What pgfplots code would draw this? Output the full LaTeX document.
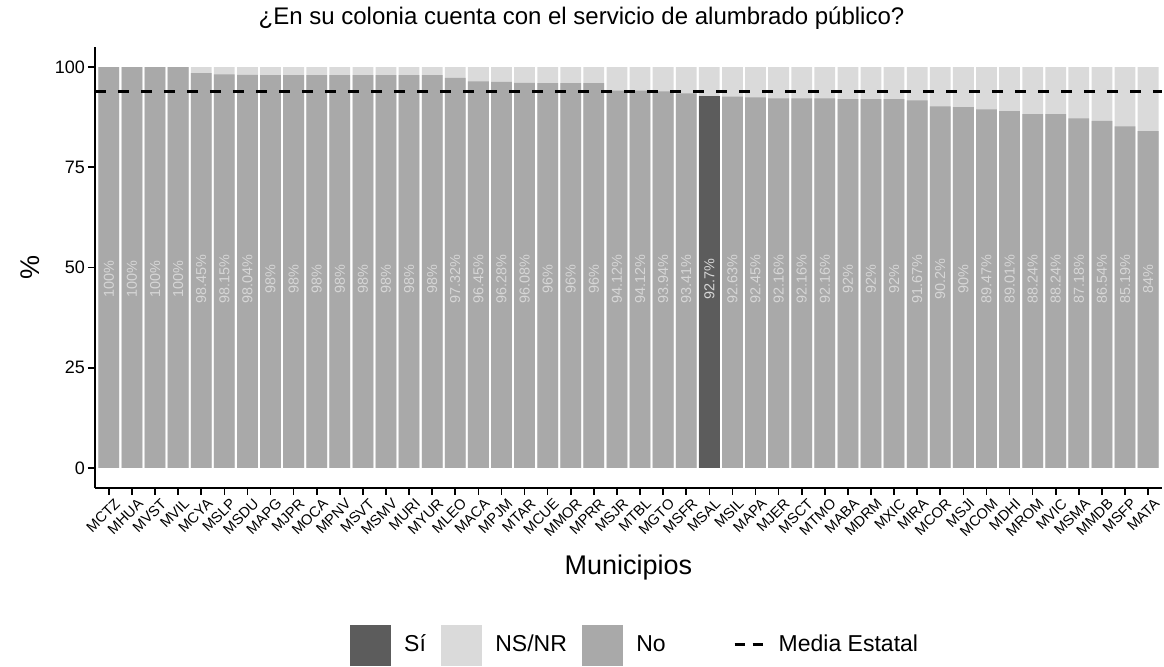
\documentclass[border=0pt]{standalone}
\usepackage{pgfplots}
\pgfplotsset{compat=1.18}
\usepackage{pgfplotstable}
\usepackage{fontspec}
\setmainfont{Liberation Sans}
\definecolor{cSi}{HTML}{5C5C5C}
\definecolor{cNo}{HTML}{A9A9A9}
\definecolor{cNS}{HTML}{DADADA}
\definecolor{cLab}{HTML}{D6D6D6}
\pgfplotstableread{
x name si tot
0 MCTZ 100 100
1 MHUA 100 100
2 MVST 100 100
3 MVIL 100 100
4 MCYA 98.45 100
5 MSLP 98.15 100
6 MSDU 98.04 100
7 MAPG 98 100
8 MJPR 98 100
9 MOCA 98 100
10 MPNV 98 100
11 MSVT 98 100
12 MSMV 98 100
13 MURI 98 100
14 MYUR 98 100
15 MLEO 97.32 100
16 MACA 96.45 100
17 MPJM 96.28 100
18 MTAR 96.08 100
19 MCUE 96 100
20 MMOR 96 100
21 MPRR 96 100
22 MSJR 94.12 100
23 MTBL 94.12 100
24 MGTO 93.94 100
25 MSFR 93.41 100
26 MSAL 92.7 100
27 MSIL 92.63 100
28 MAPA 92.45 100
29 MJER 92.16 100
30 MSCT 92.16 100
31 MTMO 92.16 100
32 MABA 92 100
33 MDRM 92 100
34 MXIC 92 100
35 MIRA 91.67 100
36 MCOR 90.2 100
37 MSJI 90 100
38 MCOM 89.47 100
39 MDHI 89.01 100
40 MROM 88.24 100
41 MVIC 88.24 100
42 MSMA 87.18 100
43 MMDB 86.54 100
44 MSFP 85.19 100
45 MATA 84 100
}\data
\begin{document}
\begin{tikzpicture}
\begin{axis}[
  name=ax, at={(0,0)}, anchor=south west,
  scale only axis, width=533.5pt, height=220.5pt,
  xmin=-0.6, xmax=45.6, ymin=-5, ymax=105,
  axis x line*=bottom, axis y line*=left,
  axis line style={line width=1pt, -},
  xtick={0,...,45},
  xticklabels from table={\data}{name},
  xticklabel style={rotate=45, anchor=north east, font=\fontsize{7.3}{8}\selectfont, inner sep=1pt, yshift=-1.5pt, xshift=2pt},
  ytick={0,25,50,75,100},
  yticklabel style={font=\fontsize{9}{10}\selectfont, xshift=2pt},
  /pgf/number format/assume math mode=true,
  tick style={black, line width=0.8pt},
  tick align=outside, major tick length=3.5pt,
  xlabel={Municipios},
  every axis x label/.style={at={(axis description cs:0.5,-0.1814)}, anchor=center, font=\fontsize{13.5}{15}\selectfont},
  ylabel={\%},
  every axis y label/.style={at={(axis description cs:-0.0609,0.5)}, rotate=90, anchor=center, font=\fontsize{13.5}{15}\selectfont},
  title={¿En su colonia cuenta con el servicio de alumbrado público?},
  every axis title/.style={at={(axis description cs:0.456,1.0658)}, anchor=center, font=\fontsize{12}{14}\selectfont},
  legend columns=4,
  legend style={at={(axis description cs:0.507,-0.356)}, anchor=center, draw=none, fill=none,
    font=\fontsize{11.5}{13}\selectfont,
    /tikz/every even column/.append style={column sep=5.5pt}},
]
\addplot[ybar, bar width=0.9, bar shift=0pt, fill=cNS, draw=none, forget plot] table[x=x, y=tot]{\data};
\addplot[ybar, bar width=0.9, bar shift=0pt, fill=cNo, draw=none, forget plot] table[x=x, y=si]{\data};
\addplot[ybar, bar width=0.9, bar shift=0pt, fill=cSi, draw=none, forget plot] coordinates {(26,92.7)};
\addplot[black, line width=1.5pt, dash pattern=on 5.5pt off 6pt, forget plot] coordinates {(-0.6,94) (45.6,94)};
\addplot[draw=none, mark=none, forget plot, point meta=explicit symbolic,
  nodes near coords={\pgfplotspointmeta\%}, nodes near coords align={center},
  nodes near coords style={rotate=90, anchor=center, text=cLab, font=\fontsize{7.2}{8}\selectfont}]
  table[x=x, y expr=47, meta=si]{\data};
\addlegendimage{legend image code/.code={\path[draw=none] (0pt,0pt) -- (25pt,0pt); \fill[cSi] (0pt,-10pt) rectangle (20pt,10pt);}}
\addlegendentry{Sí}
\addlegendimage{legend image code/.code={\path[draw=none] (0pt,0pt) -- (25pt,0pt); \fill[cNS] (0pt,-10pt) rectangle (20pt,10pt);}}
\addlegendentry{NS/NR}
\addlegendimage{legend image code/.code={\path[draw=none] (0pt,0pt) -- (25pt,0pt); \fill[cNo] (0pt,-10pt) rectangle (20pt,10pt);}}
\addlegendentry{No}
\addlegendimage{legend image code/.code={\path[draw=none] (0pt,0pt) -- (47pt,0pt); \draw[black, line width=1.5pt, dash pattern=on 5pt off 4pt] (27pt,0pt) -- (42pt,0pt);}}
\addlegendentry{Media Estatal}
\end{axis}
\pgfresetboundingbox
\path[use as bounding box] (-47.5pt,-89.5pt) rectangle (534.5pt,244pt);
\end{tikzpicture}
\end{document}
